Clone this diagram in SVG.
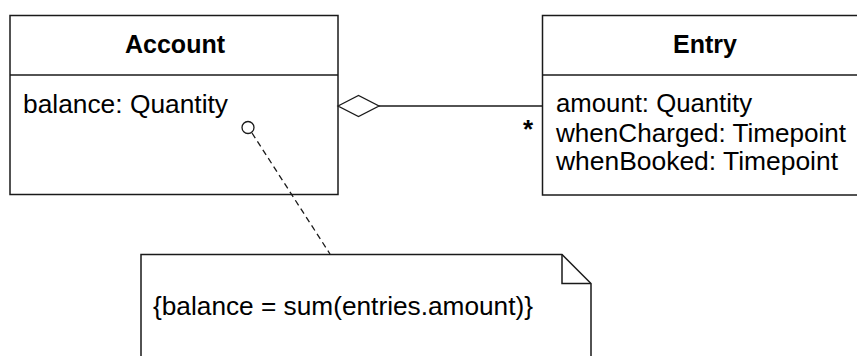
<svg xmlns="http://www.w3.org/2000/svg" width="857" height="356" viewBox="0 0 857 356">
<style>
.box{fill:#fff;stroke:#1a1a1a;stroke-width:1.5}
.ln{fill:none;stroke:#1a1a1a;stroke-width:1.3}
.t{font-family:"Liberation Sans",Arial,sans-serif;font-size:26px;fill:#000}
.b{font-family:"Liberation Sans",Arial,sans-serif;font-size:25px;font-weight:bold;fill:#000}
</style>
<rect width="857" height="356" fill="#fff"/>
<g id="account">
<rect class="box" x="10" y="15.5" width="328" height="179"/>
<line class="ln" x1="10" y1="75" x2="338" y2="75" style="stroke-width:1.5"/>
<text class="b" x="175" y="53" text-anchor="middle">Account</text>
<text class="t" x="23" y="113" textLength="205" lengthAdjust="spacingAndGlyphs">balance: Quantity</text>
</g>
<g id="entry">
<rect class="box" x="542.5" y="15.5" width="330" height="179.5"/>
<line class="ln" x1="542.5" y1="75" x2="872" y2="75" style="stroke-width:1.5"/>
<text class="b" x="705" y="53" text-anchor="middle">Entry</text>
<text class="t" x="556" y="112" textLength="196" lengthAdjust="spacingAndGlyphs">amount: Quantity</text>
<text class="t" x="556" y="141.5" textLength="290" lengthAdjust="spacingAndGlyphs">whenCharged: Timepoint</text>
<text class="t" x="556" y="170" textLength="282" lengthAdjust="spacingAndGlyphs">whenBooked: Timepoint</text>
</g>
<g id="note">
<polygon class="box" points="141,254.5 562,254.5 591,283.5 591,370 141,370"/>
<polyline class="ln" points="562,254.5 562,283.5 591,283.5" style="stroke-width:1.5"/>
<text class="t" x="153" y="315" textLength="380" lengthAdjust="spacingAndGlyphs">{balance = sum(entries.amount)}</text>
</g>
<g id="connectors">
<line class="ln" x1="379" y1="106" x2="542.5" y2="106"/>
<polygon points="338,106 358.5,95.5 379,106 358.5,116.5" fill="#fff" stroke="#1a1a1a" stroke-width="1.3"/>
<text class="b" x="528" y="138" text-anchor="middle" style="font-size:26px">*</text>
<line class="ln" x1="252" y1="133" x2="330" y2="254" stroke-dasharray="6,4"/>
<circle cx="248" cy="127.5" r="6" fill="#fff" stroke="#1a1a1a" stroke-width="1.3"/>
</g>
</svg>
